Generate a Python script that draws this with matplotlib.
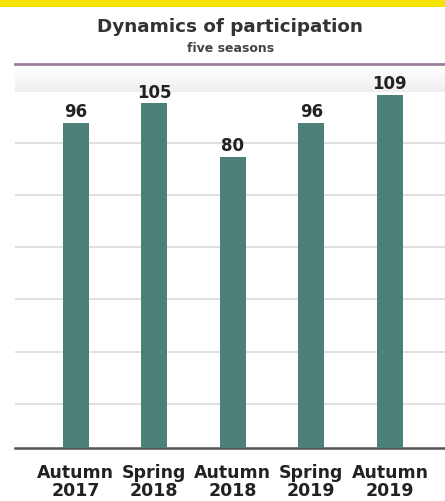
import matplotlib
matplotlib.use("Agg")
import matplotlib.pyplot as plt
import numpy as np

categories = ["Autumn\n2017", "Spring\n2018", "Autumn\n2018", "Spring\n2019", "Autumn\n2019"]
values = [96, 105, 80, 96, 109]
title = "Dynamics of participation"
subtitle = "five seasons"

FONT = ["DejaVu Sans"]
BAR = "#4e807a"

fig = plt.figure(figsize=(4.45, 5.02), dpi=100)
fig.patch.set_facecolor("white")

# yellow band at the very top
fig.patches.append(plt.Rectangle((0, 1 - 8 / 502), 1, 8 / 502, transform=fig.transFigure,
                                 facecolor="#f4e300", edgecolor="none", zorder=0))

ax = fig.add_axes([15 / 445, 1 - 449 / 502, 1 - 15 / 445, (449 - 65) / 502])
ymin, ymax = -56, 123.4
ax.set_ylim(ymin, ymax)
ax.set_xlim(-0.77, 4.70)

# faint shadow band under the top rule (lighter at top, greyer at bottom)
grad = np.linspace(0.0, 1.0, 64).reshape(-1, 1)
ax.imshow(grad, extent=[0, 1, 0.927, 0.99], transform=ax.transAxes, aspect="auto",
          cmap=matplotlib.colors.LinearSegmentedColormap.from_list("sh", ["#ffffff", "#efefef"]),
          zorder=0.5)

x = np.arange(len(values))
v = np.array(values, dtype=float)
ax.bar(x, v - ymin, bottom=ymin, width=0.33, color=BAR, zorder=3)

for xi, vi in zip(x, values):
    ax.annotate(str(vi), (xi, vi), xytext=(0, 2), textcoords="offset points",
                ha="center", va="bottom", fontsize=12, fontweight="bold",
                color="#222222", family=FONT, zorder=4)

grid_y = -35.4 + 24.4 * np.arange(6)
ax.set_yticks(grid_y)
ax.yaxis.grid(True, color="#dddddd", linewidth=1.3, zorder=0)
ax.tick_params(axis="y", left=False, labelleft=False)
ax.tick_params(axis="x", bottom=False, pad=7)
ax.set_xticks(x)
ax.set_xticklabels(categories, fontsize=12.5, fontweight="bold", color="#222222",
                   family=FONT, linespacing=1.05)

for s in ["left", "right"]:
    ax.spines[s].set_visible(False)
ax.spines["top"].set_color("#9a7d9a")
ax.spines["top"].set_linewidth(2.0)
ax.spines["bottom"].set_color("#555555")
ax.spines["bottom"].set_linewidth(1.8)

fig.text(230 / 445, 1 - 27 / 502, title, ha="center", va="center", fontsize=13.2,
         fontweight="bold", color="#333333", family=FONT)
fig.text(231 / 445, 1 - 48 / 502, subtitle, ha="center", va="center", fontsize=9,
         fontweight="bold", color="#444444", family=FONT)

fig.savefig("out.png", dpi=100)
